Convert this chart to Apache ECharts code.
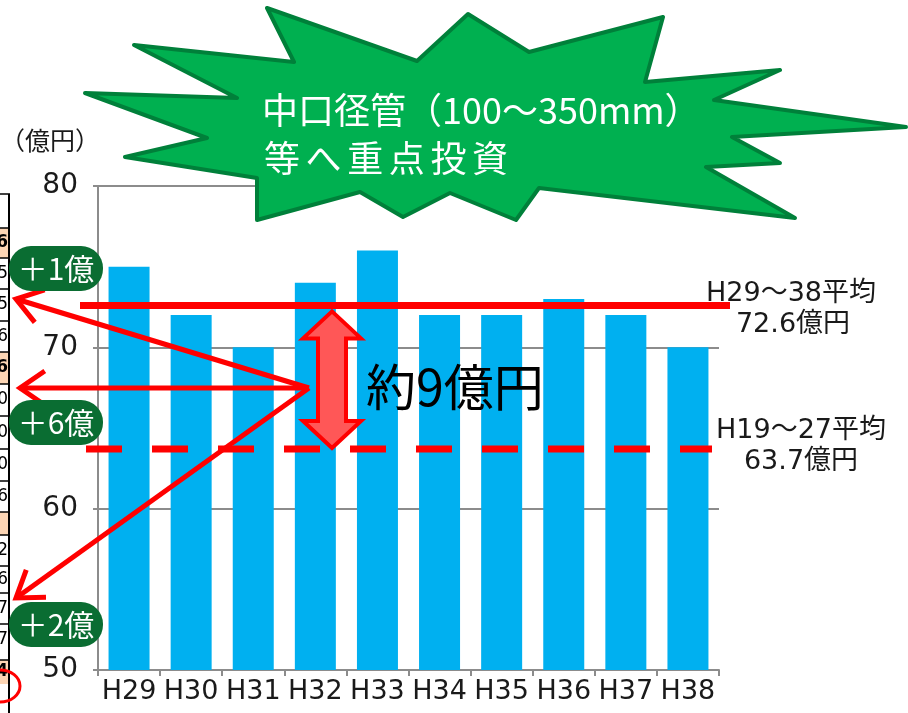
<!DOCTYPE html>
<html><head><meta charset="utf-8">
<script src="https://cdn.jsdelivr.net/npm/echarts@6/dist/echarts.min.js"></script>
<style>html,body{margin:0;padding:0;background:#fff}#c{width:908px;height:713px}</style>
</head><body><div id="c"></div>
<script>
const categories = ['H29','H30','H31','H32','H33','H34','H35','H36','H37','H38'];
const investment = [75, 72, 70, 74, 76, 72, 72, 73, 72, 70];
const avgRecent = 72.6;   // H29~38平均
const avgPast = 63.7;     // H19~27平均
const yMin = 50, yMax = 80, yStep = 10;
const unitLabel = '（億円）';
const headline1 = '中口径管（100～350mm）';
const headline2 = '等へ重点投資';
const gapLabel = '約9億円';
const recentLabel = ['H29～38平均', '72.6億円'];
const pastLabel = ['H19～27平均', '63.7億円'];
const badgeTexts = ['＋1億', '＋6億', '＋2億'];
const tableDigits = ['', '6','5','5','6','6','0','0','0','6','','2','6','7','7','4'];
const tableHighlight = [false, true,false,false,false,true,false,false,false,false,true,false,false,false,false,true];

const chart = echarts.init(document.getElementById('c'), null, {renderer:'canvas'});
const LATIN = '"DejaVu Sans", "Noto Sans CJK JP", sans-serif';
const CJK = '"Noto Sans CJK JP", sans-serif';
chart.setOption({
  animation:false,
  grid:{left:98, right:189, top:186, bottom:43, containLabel:false},
  xAxis:{type:'category', data:categories,
    axisLine:{lineStyle:{color:'#8c8c8c', width:2}},
    axisTick:{show:true, length:6, lineStyle:{color:'#8c8c8c', width:2}},
    axisLabel:{interval:0, fontSize:27, color:'#1a1a1a', fontFamily:LATIN, margin:8}},
  yAxis:{type:'value', min:yMin, max:yMax, interval:yStep,
    axisLine:{show:true, lineStyle:{color:'#8c8c8c', width:2}},
    axisTick:{show:true, length:5, lineStyle:{color:'#8c8c8c', width:2}},
    splitLine:{show:true, lineStyle:{color:'#8c8c8c', width:2}},
    axisLabel:{fontSize:28, color:'#1a1a1a', fontFamily:LATIN, margin:20}},
  series:[{type:'bar', data:investment, barWidth:41, itemStyle:{color:'#00b0f0'}, z:2}]
});

const yR = chart.convertToPixel({yAxisIndex:0}, avgRecent);
const yP = chart.convertToPixel({yAxisIndex:0}, avgPast);

function arrow(from, tip, len, ang){
  const dx = from[0]-tip[0], dy = from[1]-tip[1], L = Math.hypot(dx,dy);
  const ux = dx/L, uy = dy/L;
  const rot = a => [tip[0]+len*(ux*Math.cos(a)-uy*Math.sin(a)), tip[1]+len*(ux*Math.sin(a)+uy*Math.cos(a))];
  return [
    {type:'polyline', z:60, shape:{points:[from, tip]}, style:{stroke:'#ff0000', lineWidth:5, fill:null}},
    {type:'polyline', z:60, shape:{points:[rot(ang), tip, rot(-ang)]}, style:{stroke:'#ff0000', lineWidth:5, fill:null, lineJoin:'miter'}}
  ];
}

const g = [];
// left table fragment (cut off at the page edge)
const rowEdges = [194,228,258,289,321,352,384,416,449,481,512,535,566,593,624,655,660,682];
for (let i=0;i<tableDigits.length;i++){
  let y0 = rowEdges[i], y1 = rowEdges[i+1];
  if (i === 15) { y0 = 660; y1 = 684; }
  if (tableHighlight[i]) g.push({type:'rect', z:5, shape:{x:0,y:y0,width:9,height:y1-y0}, style:{fill:'#fcd5b4'}});
  g.push({type:'line', z:6, shape:{x1:0,y1:y0,x2:10,y2:y0}, style:{stroke:'#000', lineWidth:1.5}});
  if (tableDigits[i]) g.push({type:'text', z:7, style:{text:tableDigits[i], x:8, y:(y0+y1)/2, font:(tableHighlight[i]?'bold ':'')+'17px '+LATIN, fill:'#000', textAlign:'right', textVerticalAlign:'middle'}});
}
g.push({type:'line', z:6, shape:{x1:9,y1:194,x2:9,y2:713}, style:{stroke:'#000', lineWidth:2}});
g.push({type:'ellipse', z:8, shape:{cx:0, cy:686, rx:20, ry:16}, style:{fill:null, stroke:'#ff0000', lineWidth:3}});

// average lines
g.push({type:'line', z:50, shape:{x1:80,y1:yR,x2:730,y2:yR}, style:{stroke:'#ff0000', lineWidth:7}});
g.push({type:'line', z:50, shape:{x1:86,y1:yP,x2:712,y2:yP}, style:{stroke:'#ff0000', lineWidth:7, lineDash:[36,30]}});

// arrows
const origin = [309, 388];
g.push(...arrow(origin, [16, 299], 30, 0.6));
g.push(...arrow(origin, [20, 388], 30, 0.6));
g.push(...arrow(origin, [16, 598], 30, 0.6));

// double arrow
const cx = 332, t = yR+6, b = yP-1;
g.push({type:'polygon', z:55, shape:{points:[[cx,t],[cx+29,t+27],[cx+14,t+27],[cx+14,b-27],[cx+29,b-27],[cx,b],[cx-29,b-27],[cx-14,b-27],[cx-14,t+27],[cx-29,t+27]]},
  style:{fill:'#ff5757', stroke:'#ff0000', lineWidth:4, lineJoin:'miter'}});

// badges
[[246,badgeTexts[0]],[400,badgeTexts[1]],[602,badgeTexts[2]]].forEach(([y,tx])=>{
  g.push({type:'rect', z:70, shape:{x:9,y:y,width:94,height:45,r:22}, style:{fill:'#0a6d32'}});
  g.push({type:'text', z:71, style:{text:tx, x:56, y:y+23, font:'30px '+CJK, fill:'#fff', textAlign:'center', textVerticalAlign:'middle'}});
});

// gap label
g.push({type:'text', z:65, style:{text:gapLabel, x:366, y:387, font:'50px '+CJK, fill:'#000', textAlign:'left', textVerticalAlign:'middle'}});

// right labels
g.push({type:'text', z:65, style:{text:recentLabel[0], x:791, y:294, font:'27px '+LATIN, fill:'#1a1a1a', textAlign:'center', textVerticalAlign:'middle'}});
g.push({type:'text', z:65, style:{text:recentLabel[1], x:793, y:325, font:'27px '+LATIN, fill:'#1a1a1a', textAlign:'center', textVerticalAlign:'middle'}});
g.push({type:'text', z:65, style:{text:pastLabel[0], x:801, y:431, font:'27px '+LATIN, fill:'#1a1a1a', textAlign:'center', textVerticalAlign:'middle'}});
g.push({type:'text', z:65, style:{text:pastLabel[1], x:801, y:462, font:'27px '+LATIN, fill:'#1a1a1a', textAlign:'center', textVerticalAlign:'middle'}});

// unit label
g.push({type:'text', z:65, style:{text:unitLabel, x:0, y:140, font:'25px '+CJK, fill:'#1a1a1a', textAlign:'left', textVerticalAlign:'middle'}});

// starburst
const star = [[267,8],[294,62],[134,45],[237,98],[85,93],[207,138],[125,157],[257,178],[257,220],[360,192],[403,217],[450,193],[516,220],[539,188],[795,218],[706,167],[780,163],[732,137],[906,127],[714,100],[780,70],[645,82],[663,17],[529,52],[468,14],[417,61]];
g.push({type:'polygon', z:100, shape:{points:star}, style:{fill:'#00b050', stroke:'#00803a', lineWidth:4, lineJoin:'round'}});
g.push({type:'text', z:101, style:{text:headline1, x:262, y:110, font:'36px '+CJK, fill:'#fff', textAlign:'left', textVerticalAlign:'middle'}});
Array.from(headline2).forEach((ch,i)=>{
  g.push({type:'text', z:101, style:{text:ch, x:264+41.6*i, y:158, font:'36px '+CJK, fill:'#fff', textAlign:'left', textVerticalAlign:'middle'}});
});

chart.setOption({graphic:g});
</script></body></html>
